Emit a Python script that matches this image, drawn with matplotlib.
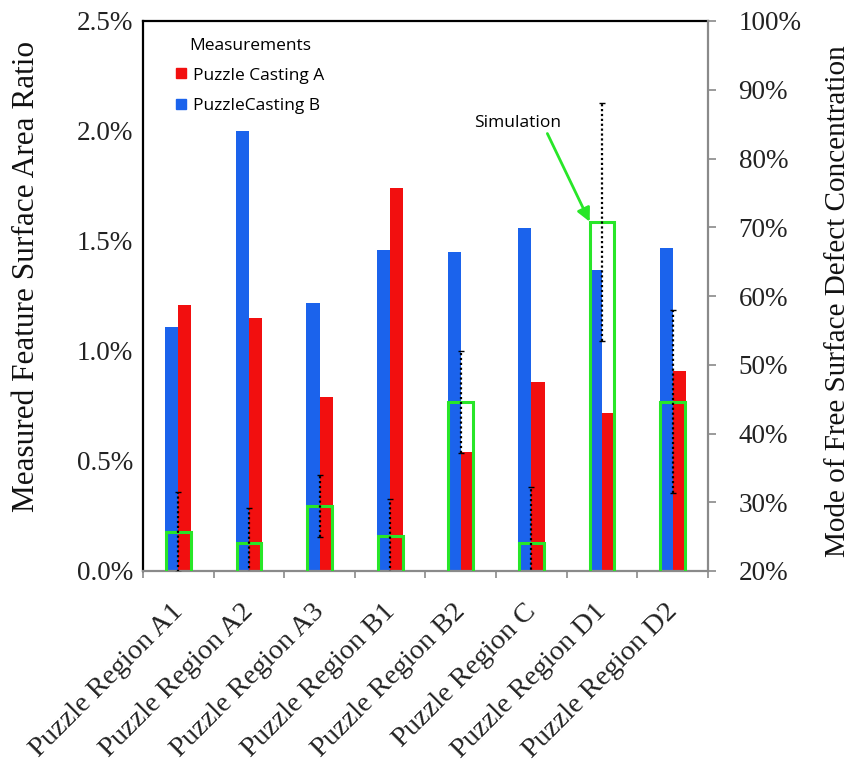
import matplotlib
matplotlib.use("Agg")
import matplotlib.pyplot as plt
import matplotlib.transforms as mtransforms
import numpy as np
from matplotlib.lines import Line2D
from matplotlib.ticker import FuncFormatter, MultipleLocator

# ---- data ----
regions = ["Puzzle Region A1", "Puzzle Region A2", "Puzzle Region A3",
           "Puzzle Region B1", "Puzzle Region B2", "Puzzle Region C",
           "Puzzle Region D1", "Puzzle Region D2"]
casting_a = [1.21, 1.15, 0.79, 1.74, 0.54, 0.86, 0.72, 0.91]   # % area ratio
casting_b = [1.11, 2.00, 1.22, 1.46, 1.45, 1.56, 1.37, 1.47]   # % area ratio
sim_mode = [25.7, 24.1, 29.5, 25.1, 44.6, 24.1, 70.8, 44.6]    # % defect concentration
sim_err = [5.8, 5.1, 4.5, 5.4, 7.4, 8.1, 17.3, 13.3]           # +/- spread

RED = "#f20f0f"
BLUE = "#1b63ec"
GREEN = "#28e628"
SERIF = ["Liberation Serif", "DejaVu Serif"]
SANS = ["Open Sans", "DejaVu Sans"]

fig = plt.figure(figsize=(8.65, 7.64), dpi=100)
ax = fig.add_axes([143 / 865, 1 - 571 / 764, 565 / 865, 550 / 764])
ax2 = ax.twinx()

x = np.arange(len(regions))
bw = 0.185

ax.bar(x - bw / 2, casting_b, width=bw, color=BLUE, zorder=2)
ax.bar(x + bw / 2, casting_a, width=bw, color=RED, zorder=2)

ax.set_xlim(-0.5, len(regions) - 0.5)
ax.set_ylim(0, 2.5)
ax.yaxis.set_major_locator(MultipleLocator(0.5))
ax.yaxis.set_major_formatter(FuncFormatter(lambda v, p: f"{v:.1f}%"))

# simulation boxes and spread on the right-hand scale
ax2.bar(x, sim_mode, width=0.35, facecolor="none", edgecolor=GREEN,
        linewidth=2.2, zorder=3)
eb = ax2.errorbar(x, sim_mode, yerr=sim_err, fmt="none", ecolor="black",
                  elinewidth=1.6, capsize=2.5, capthick=1.0, zorder=4)
for lc in eb[2]:
    lc.set_linestyle((0, (1, 1.2)))
ax2.set_ylim(20, 100)
ax2.yaxis.set_major_locator(MultipleLocator(10))
ax2.yaxis.set_major_formatter(FuncFormatter(lambda v, p: f"{v:.0f}%"))

# spines
for sp in ("left", "top"):
    ax.spines[sp].set_color("black")
    ax.spines[sp].set_linewidth(1.6)
ax.spines["bottom"].set_color("#8a8a8a")
ax.spines["bottom"].set_linewidth(1.6)
ax.spines["right"].set_visible(False)
for sp in ("left", "top", "bottom"):
    ax2.spines[sp].set_visible(False)
ax2.spines["right"].set_color("#8a8a8a")
ax2.spines["right"].set_linewidth(1.6)

# ticks
ax.tick_params(axis="y", length=0, pad=7, labelsize=19.5, labelcolor="#222222")
for t in ax.get_yticklabels():
    t.set_family(SERIF)
ax2.tick_params(axis="y", length=6, width=1.2, color="#8a8a8a", pad=16,
                labelsize=19.5, labelcolor="#222222")
for t in ax2.get_yticklabels():
    t.set_family(SERIF)

ax.set_xticks(x)
ax.set_xticklabels(regions, rotation=45, ha="right", rotation_mode="anchor",
                   family=SERIF, fontsize=20.5, color="#222222")
ax.tick_params(axis="x", which="major", length=0, pad=20)
shift = mtransforms.ScaledTranslation(-0.08, 0, fig.dpi_scale_trans)
for t in ax.get_xticklabels():
    t.set_transform(t.get_transform() + shift)
ax.set_xticks(np.arange(-0.5, len(regions)), minor=True)
ax.tick_params(axis="x", which="minor", length=5, width=1.2, color="#8a8a8a")

ax.set_ylabel("Measured Feature Surface Area Ratio", family=SERIF,
              fontsize=22.5, color="#111111")
ax.yaxis.set_label_coords(-0.18, 0.535)
ax2.set_ylabel("Mode of Free Surface Defect Concentration", family=SERIF,
               fontsize=21, color="#111111", rotation=90)
ax2.yaxis.set_label_coords(1.207, 0.49)

# legend
handles = [Line2D([], [], marker="s", linestyle="none", color=RED, markersize=7),
           Line2D([], [], marker="s", linestyle="none", color=BLUE, markersize=7)]
leg = ax.legend(handles, ["Puzzle Casting A", "PuzzleCasting B"],
                title="Measurements", loc="upper left",
                bbox_to_anchor=(0.058, 0.97), frameon=False,
                borderpad=0, borderaxespad=0, handlelength=0.6,
                handletextpad=0.4, labelspacing=0.8,
                prop={"family": SANS, "size": 12.5},
                title_fontproperties={"family": SANS, "size": 12.5})

# annotation pointing at the D1 simulation box
ax2.annotate("Simulation", xy=(6 - 0.175, sim_mode[6]),
             xytext=(4.8, 85.2), textcoords="data",
             ha="center", va="center", family=SANS, fontsize=12.5,
             arrowprops=dict(arrowstyle="-|>", color=GREEN, lw=2,
                             mutation_scale=20, relpos=(0.83, 0.0),
                             shrinkA=0, shrinkB=0),
             zorder=5)

fig.savefig("out.png", dpi=100)
